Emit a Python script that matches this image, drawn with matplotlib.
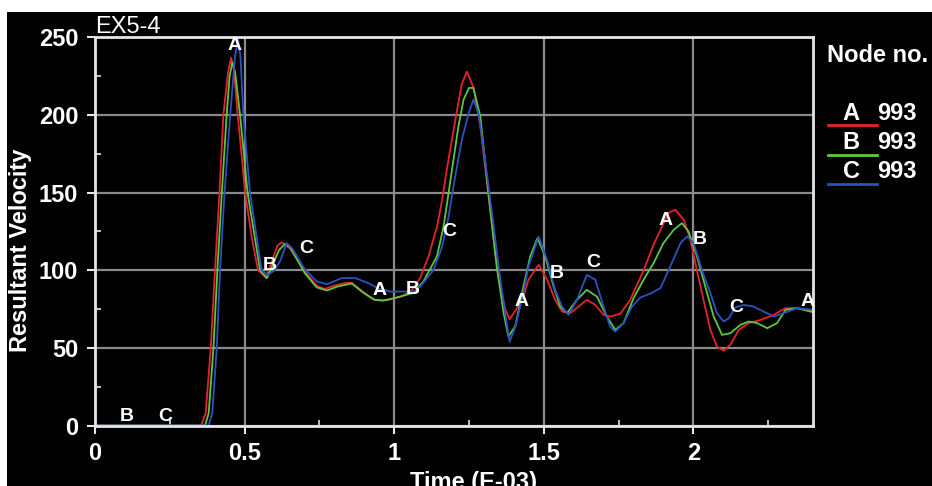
import numpy as np
import matplotlib
matplotlib.use("Agg")
import matplotlib.pyplot as plt
from matplotlib.lines import Line2D
from matplotlib.patches import Rectangle

plt.rcParams['font.family'] = ['Liberation Sans', 'DejaVu Sans']

# Node A (red)
t_a = [0, 0.355, 0.37, 0.387, 0.401, 0.416, 0.429, 0.445, 0.455, 0.465, 0.477, 0.502, 0.525,
       0.545, 0.572, 0.59, 0.61, 0.624, 0.652, 0.702, 0.741, 0.769, 0.797, 0.842, 0.858, 0.897,
       0.931, 0.953, 0.98, 1.02, 1.054, 1.087, 1.115, 1.143, 1.16, 1.176, 1.193, 1.21, 1.226,
       1.243, 1.265, 1.288, 1.304, 1.321, 1.338, 1.355, 1.371, 1.386, 1.405, 1.432, 1.449,
       1.483, 1.511, 1.538, 1.561, 1.589, 1.616, 1.644, 1.672, 1.70, 1.722, 1.756, 1.789,
       1.834, 1.867, 1.895, 1.917, 1.94, 1.968, 1.99, 2.012, 2.034, 2.057, 2.079, 2.101,
       2.124, 2.152, 2.185, 2.224, 2.269, 2.308, 2.347, 2.40]
v_a = [0, 0, 8, 50, 100, 150, 200, 228, 237, 228, 200, 150, 120,
       100, 95, 105, 116, 118, 114, 99, 90, 88, 90, 92, 92, 86,
       81, 80.5, 81, 83, 86, 95, 109, 128, 145, 165, 184, 203, 220,
       228, 218, 193, 167, 139, 111, 90, 75, 68.5, 74, 83, 94,
       103.5, 94, 81, 73.4, 72.4, 76.6, 81, 77.7, 71.3, 70.2, 72, 81,
       100, 116.5, 128, 137, 139, 132.6, 119.7, 100, 81, 61.6, 50.8, 48.3,
       52, 61.6, 66, 68, 71.3, 75.6, 75.6, 74]

# Node B (green)
t_b = [0, 0.368, 0.38, 0.396, 0.409, 0.424, 0.44, 0.45, 0.459, 0.468, 0.485, 0.51, 0.552,
       0.575, 0.595, 0.615, 0.635, 0.652, 0.702, 0.741, 0.775, 0.81, 0.858, 0.897, 0.935,
       0.965, 1.02, 1.065, 1.098, 1.143, 1.165, 1.182, 1.198, 1.215, 1.232, 1.25, 1.265,
       1.288, 1.315, 1.343, 1.366, 1.382, 1.405, 1.432, 1.455, 1.479, 1.505, 1.533, 1.555,
       1.578, 1.611, 1.644, 1.678, 1.711, 1.739, 1.767, 1.80, 1.834, 1.867, 1.90, 1.934,
       1.962, 1.984, 2.012, 2.04, 2.068, 2.096, 2.124, 2.157, 2.185, 2.213, 2.247, 2.28,
       2.308, 2.347, 2.40]
v_b = [0, 0, 8, 50, 100, 150, 200, 225, 234, 228, 200, 150, 100,
       95, 104, 113, 117, 115, 98, 89, 87, 89.5, 91.5, 85.5, 81,
       80.5, 83, 85.5, 92.8, 109, 128, 150, 171, 193, 210, 217.5, 217.5,
       199, 150, 102, 72.4, 57.3, 64, 89.5, 109, 120.7, 109, 89.5, 76.6,
       72.4, 81, 87.4, 83, 70.2, 61.6, 66, 82, 94, 104.6, 117.5, 126,
       130.4, 125, 109, 89.5, 70.2, 58.4, 59.5, 64.8, 67, 66, 62.7, 66,
       74.5, 75.6, 73]

# Node C (blue)
t_c = [0, 0.38, 0.392, 0.407, 0.418, 0.433, 0.452, 0.468, 0.478, 0.486, 0.496, 0.518, 0.557,
       0.578, 0.60, 0.619, 0.641, 0.66, 0.70, 0.74, 0.775, 0.825, 0.87, 0.914, 0.95, 0.987,
       1.031, 1.065, 1.087, 1.131, 1.16, 1.182, 1.204, 1.226, 1.249, 1.265, 1.282, 1.304,
       1.327, 1.349, 1.371, 1.386, 1.405, 1.427, 1.449, 1.483, 1.511, 1.538, 1.561, 1.583,
       1.611, 1.644, 1.672, 1.70, 1.722, 1.739, 1.767, 1.795, 1.823, 1.856, 1.89, 1.923,
       1.957, 1.979, 2.001, 2.029, 2.057, 2.079, 2.101, 2.118, 2.14, 2.168, 2.202, 2.235,
       2.269, 2.302, 2.347, 2.40]
v_c = [0, 0, 8, 50, 100, 150, 200, 238, 249, 238, 200, 150, 100,
       97, 100, 106, 117.5, 114, 101, 93, 91, 95, 95, 91.7, 88, 86.3,
       86.3, 86.3, 89.5, 100, 115, 134.7, 160.5, 184, 201, 210, 201, 171,
       137, 102.5, 72.4, 54, 63.7, 81, 102.5, 121.8, 106.8, 87.4, 76.6, 71.3,
       81, 97, 94, 76.6, 63.7, 60.5, 66, 76.6, 82.5, 85, 88.5, 102.5,
       117.5, 121.8, 117.5, 100, 85.3, 72.4, 67, 69, 76, 77.7, 76.6, 73.4,
       70.2, 72.4, 75.6, 74.5]

# curve identification letters (x, y, letter)
mark_x = [0.107, 0.234, 0.468, 0.585, 0.706, 0.95, 1.063, 1.184, 1.425, 1.542, 1.666, 1.906, 2.023, 2.144, 2.381]
mark_y = [5.5, 5.5, 245, 103, 114, 87, 87.5, 125, 80, 98, 105, 132, 120, 76, 80]
mark_txt = ['B', 'C', 'A', 'B', 'C', 'A', 'B', 'C', 'A', 'B', 'C', 'A', 'B', 'C', 'A']

nodes = ['A', 'B', 'C']
node_ids = ['993', '993', '993']
colors = ['#e8222c', '#5cc83c', '#2a52c0']

fig = plt.figure(figsize=(9.32, 4.86), dpi=100, facecolor='black')
# white margin strips of the screenshot
fig.patches.append(Rectangle((0, 1 - 12 / 486), 1, 12 / 486, transform=fig.transFigure,
                             facecolor='white', edgecolor='none', zorder=0))
fig.patches.append(Rectangle((0, 0), 7 / 932, 1, transform=fig.transFigure,
                             facecolor='white', edgecolor='none', zorder=0))

ax = fig.add_axes([95 / 932, 1 - 425.5 / 486, (813 - 95) / 932, (425.5 - 37.5) / 486])
ax.set_facecolor('black')

for t, v, c in zip([t_a, t_b, t_c], [v_a, v_b, v_c], colors):
    ax.plot(t, v, color=c, lw=1.3, zorder=3)

for x, y, s in zip(mark_x, mark_y, mark_txt):
    ax.text(x, y, s, color='white', fontsize=14, fontweight='bold',
            ha='center', va='center', zorder=5)

ax.set_xlim(0, 2.4)
ax.set_ylim(0, 250)
ax.set_xticks([0, 0.5, 1, 1.5, 2])
ax.set_xticklabels(['0', '0.5', '1', '1.5', '2'])
ax.set_yticks([0, 50, 100, 150, 200, 250])
ax.set_xticks(np.arange(0.25, 2.4, 0.5), minor=True)
ax.set_yticks(np.arange(25, 250, 50), minor=True)

ax.grid(True, which='major', color='#8a8a8a', lw=1.6, zorder=1)
for sp in ax.spines.values():
    sp.set_color('#e6e6e6')
    sp.set_linewidth(2)
    sp.set_zorder(4)

ax.tick_params(axis='both', which='major', colors='#e6e6e6', length=6, width=1.5,
               labelsize=17, labelcolor='white')
ax.tick_params(axis='y', which='major', pad=6)
ax.tick_params(axis='x', which='major', pad=6)
ax.tick_params(axis='both', which='minor', direction='in', colors='#e6e6e6', length=4, width=1.2)
for lab in ax.get_xticklabels() + ax.get_yticklabels():
    lab.set_fontweight('bold')

fig.text(21 / 932, 1 - 250 / 486, 'Resultant Velocity', rotation=90, color='white',
         fontsize=17, fontweight='bold', ha='center', va='center')
fig.text(473 / 932, 1 - 471 / 486, 'Time (E-03)', color='white',
         fontsize=17, fontweight='bold', ha='center', va='top')
fig.text(95 / 932, 1 - 27 / 486, 'EX5-4', color='white', fontsize=17, ha='left', va='center')

# legend block
fig.text(878 / 932, 1 - 55 / 486, 'Node no.', color='white', fontsize=17,
         fontweight='bold', ha='center', va='center')
for i, (n, nid, c) in enumerate(zip(nodes, node_ids, colors)):
    yt = 113 + 29.5 * i
    fig.text(851 / 932, 1 - yt / 486, n, color='white', fontsize=17,
             fontweight='bold', ha='center', va='center')
    fig.text(877 / 932, 1 - yt / 486, nid, color='white', fontsize=17,
             fontweight='bold', ha='left', va='center')
    yl = 1 - (yt + 12) / 486
    fig.lines.append(Line2D([828 / 932, 877 / 932], [yl, yl], transform=fig.transFigure,
                            color=c, lw=2))

fig.savefig('out.png', dpi=100, facecolor=fig.get_facecolor())
